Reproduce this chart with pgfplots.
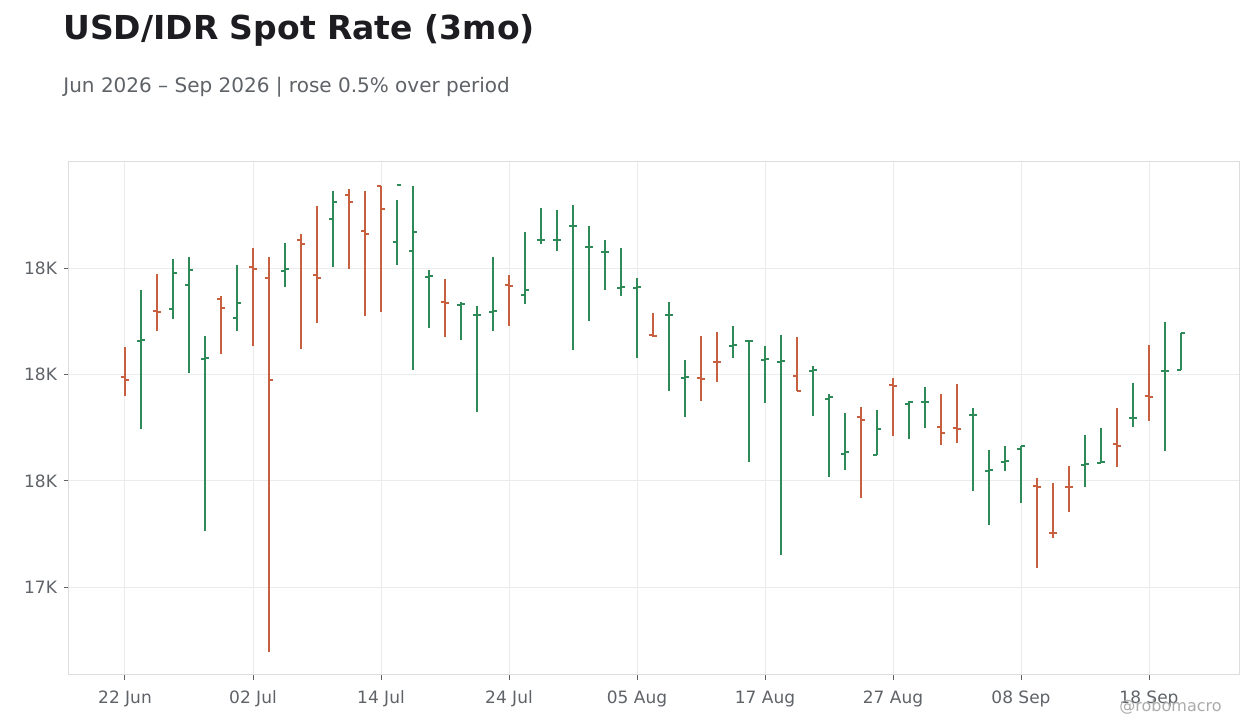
\documentclass[border=0pt]{standalone}
\usepackage{fontspec}
\setmainfont{DejaVu Sans}
\usepackage{pgfplots}
\usepackage{pgfplotstable}
\pgfplotsset{compat=1.18}

\definecolor{upc}{HTML}{2E8B57}
\definecolor{dnc}{HTML}{C8603F}
\definecolor{txt}{HTML}{5F6368}
\definecolor{ttl}{HTML}{1C1C21}
\definecolor{gridc}{HTML}{EBEBEB}
\definecolor{framec}{HTML}{DDDDDD}

% index = trading day from 22 Jun; o h l c
\pgfplotstableread{
i o h l c
1 17863 17959 17697 17865
3 17924 18018 17905 17992
4 17969 18021 17804 17996
5 17829 17873 17505 17831
7 17907 18006 17883 17935
10 17994 18048 17964 17999
13 18093 18145 18003 18125
17 18050 18129 18007 18157
18 18033 18155 17809 18069
19 17984 17997 17887 17986
21 17931 17937 17866 17932
22 17912 17929 17729 17913
23 17918 18021 17883 17919
25 17949 18068 17932 17960
26 18053 18113 18045 18054
27 18053 18110 18033 18054
28 18079 18119 17847 18080
29 18040 18080 17900 18041
30 18030 18053 17960 18031
31 17963 18038 17947 17964
32 17963 17982 17832 17964
34 17912 17937 17770 17913
35 17794 17828 17721 17795
38 17853 17892 17832 17855
39 17863 17864 17636 17864
40 17828 17854 17747 17830
41 17824 17875 17461 17825
43 17807 17816 17723 17808
44 17755 17764 17608 17757
45 17651 17728 17621 17655
47 17649 17734 17649 17697
49 17745 17751 17678 17749
50 17748 17777 17700 17749
53 17724 17737 17582 17725
54 17619 17658 17518 17620
55 17636 17666 17619 17638
56 17661 17666 17559 17665
60 17630 17686 17589 17631
61 17634 17700 17634 17636
63 17718 17784 17702 17719
65 17806 17899 17657 17807
66 17809 17879 17809 17879
}\up

\pgfplotstableread{
i o h l c
0 17796 17852 17760 17789
2 17919 17989 17882 17917
6 17943 17948 17839 17926
8 18003 18038 17853 17999
9 17982 18021 17279 17789
11 18054 18065 17848 18046
12 17988 18117 17898 17981
14 18137 18149 17999 18125
15 18071 18145 17911 18065
16 18154 18155 17918 18112
20 17937 17980 17870 17935
24 17969 17987 17892 17967
33 17875 17916 17871 17873
36 17794 17873 17751 17792
37 17824 17880 17787 17823
42 17798 17871 17770 17770
46 17721 17739 17567 17715
48 17781 17794 17685 17779
51 17702 17764 17668 17691
52 17699 17782 17672 17698
57 17591 17606 17437 17589
58 17503 17596 17493 17502
59 17589 17628 17542 17588
62 17670 17737 17627 17666
64 17759 17856 17713 17758
}\down

\pgfplotsset{
  hl/.style={draw=none, mark=none, forget plot,
    error bars/.cd, y dir=plus, y explicit, error mark=none,
    error bar style={draw=#1, line width=1.05pt}},
  op/.style={draw=none, mark=none, forget plot,
    error bars/.cd, x dir=minus, x fixed=0.26, error mark=none,
    error bar style={draw=#1, line width=1pt}},
  cl/.style={draw=none, mark=none, forget plot,
    error bars/.cd, x dir=plus, x fixed=0.26, error mark=none,
    error bar style={draw=#1, line width=1pt}},
}

\begin{document}
\begin{tikzpicture}
\path[use as bounding box, fill=white] (0,0) rectangle (630pt,364pt);
\begin{axis}[
  at={(34.5pt,26.5pt)}, anchor=south west,
  scale only axis, width=585pt, height=256.5pt,
  xmin=-3.5, xmax=69.625, ymin=17235, ymax=18200,
  scaled y ticks=false,
  xtick={0,8,...,64},
  xticklabels={22 Jun,02 Jul,14 Jul,24 Jul,05 Aug,17 Aug,27 Aug,08 Sep,18 Sep},
  ytick={17400,17600,17800,18000},
  yticklabels={17K,18K,18K,18K},
  xtick pos=bottom, ytick pos=left,
  tick align=outside, major tick length=2.5pt,
  tick style={color=txt, line width=0.5pt},
  grid=major, major grid style={color=gridc, line width=0.5pt},
  axis line style={color=framec, line width=0.5pt},
  tick label style={font=\fontsize{8.5}{10}\selectfont, text=txt},
  xticklabel style={yshift=-2pt},
  /pgf/number format/assume math mode=true,
]
\addplot[hl=upc] table[x=i, y=l, y error expr=\thisrow{h}-\thisrow{l}] {\up};
\addplot[op=upc] table[x=i, y=o] {\up};
\addplot[cl=upc] table[x=i, y=c] {\up};
\addplot[hl=dnc] table[x=i, y=l, y error expr=\thisrow{h}-\thisrow{l}] {\down};
\addplot[op=dnc] table[x=i, y=o] {\down};
\addplot[cl=dnc] table[x=i, y=c] {\down};
\end{axis}
\node[anchor=base west, inner sep=0pt, text=ttl, font=\fontsize{16.5}{20}\selectfont\bfseries] at (31.5pt,344pt) {USD/IDR Spot Rate (3mo)};
\node[anchor=base west, inner sep=0pt, text=txt, font=\fontsize{10}{12}\selectfont] at (31.5pt,317.6pt) {Jun 2026 – Sep 2026 | rose 0.5\% over period};
\node[anchor=base east, inner sep=0pt, text=black!33, font=\fontsize{8}{10}\selectfont] at (611pt,8pt) {@robomacro};
\end{tikzpicture}
\end{document}
